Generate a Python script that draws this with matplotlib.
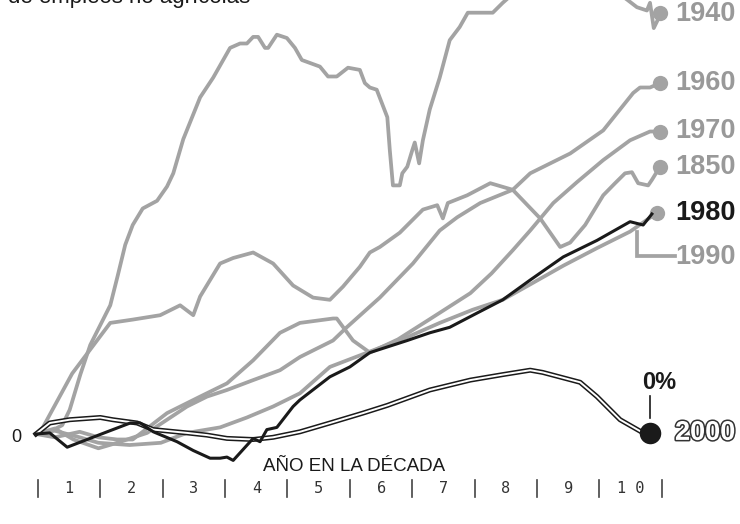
import matplotlib
matplotlib.use("Agg")
import matplotlib.pyplot as plt
import matplotlib.patheffects as pe

# ---------------- data (year in decade, % change in non-farm jobs) ----------------
y1940_x = [0, 0.22, 0.42, 0.54, 0.71, 0.87, 1.03, 1.19, 1.31, 1.43, 1.55, 1.71, 1.94, 2.10, 2.20,
           2.36, 2.63, 2.84, 3.11, 3.27, 3.38, 3.48, 3.56, 3.67, 3.72, 3.86, 4.02, 4.15, 4.26, 4.55,
           4.68, 4.82, 5.00, 5.19, 5.27, 5.35, 5.46, 5.63, 5.67, 5.72, 5.83, 5.87, 5.95, 6.03, 6.07,
           6.14, 6.20, 6.31, 6.47, 6.63, 6.79, 6.92, 7.07, 7.32, 7.48, 7.60, 7.90, 8.40, 8.90, 9.30,
           9.47, 9.63, 9.79, 9.84, 9.90, 9.96, 10.0]
y1940_v = [0, 0.2, 0.8, 2.2, 5.4, 8.1, 9.9, 11.7, 14.4, 17.2, 19.0, 20.5, 21.2, 22.5, 23.7,
           26.8, 30.6, 32.4, 35.1, 35.5, 35.5, 36.1, 36.1, 35.1, 35.1, 36.3, 36.0, 35.1, 34.0, 33.4,
           32.5, 32.5, 33.3, 33.1, 31.9, 31.5, 31.3, 28.8, 25.8, 22.6, 22.6, 23.7, 24.3, 25.8, 26.5,
           24.6, 26.7, 29.5, 32.4, 35.8, 37.0, 38.3, 38.3, 38.3, 39.2, 39.8, 40.8, 41.3, 40.8, 40.2,
           39.5, 38.8, 38.5, 39.2, 36.9, 37.6, 38.3]

y1950_x = [0, 0.11, 0.58, 1.19, 1.55, 1.99, 2.31, 2.52, 2.63, 2.95, 3.16, 3.48, 3.80, 4.12, 4.44,
           4.71, 4.92, 5.19, 5.35, 5.51, 5.83, 6.20, 6.43, 6.52, 6.60, 6.91, 7.28, 7.64, 8.08, 8.40,
           8.56, 8.80, 9.09, 9.28, 9.44, 9.55, 9.65, 9.81, 9.87, 10.0]
y1950_v = [0, 0.6, 5.5, 10.1, 10.4, 10.8, 11.7, 10.8, 12.5, 15.5, 16.0, 16.5, 15.5, 13.5, 12.4,
           12.2, 13.4, 15.2, 16.5, 17.0, 18.3, 20.4, 20.8, 19.6, 21.0, 21.7, 22.8, 22.2, 19.6, 17.0,
           17.4, 19.0, 21.7, 22.8, 23.7, 23.8, 22.8, 22.6, 23.1, 24.3]

y1960_x = [0, 0.3, 0.6, 1.0, 1.3, 1.78, 2.10, 2.42, 2.74, 3.06, 3.48, 3.91, 4.23, 4.76, 4.98,
           5.51, 6.04, 6.47, 6.75, 7.12, 7.64, 7.92, 8.24, 8.56, 9.09, 9.57, 9.68, 9.84, 10.0]
y1960_v = [0, 0.5, -0.5, -1.3, -0.8, 0.1, 1.3, 2.5, 3.4, 4.0, 4.9, 5.8, 7.0, 8.5, 9.7,
           12.4, 15.5, 18.5, 19.7, 21.0, 22.2, 23.7, 24.6, 25.5, 27.6, 31.0, 31.5, 31.5, 31.9]

y1970_x = [0, 0.3, 0.7, 1.0, 1.3, 1.55, 2.10, 2.63, 3.06, 3.48, 3.91, 4.23, 4.76, 4.82, 5.08,
           5.35, 5.80, 6.30, 6.96, 7.30, 7.64, 7.92, 8.29, 8.67, 9.09, 9.52, 9.84, 10.0]
y1970_v = [0, -0.3, 0.2, -0.3, -0.5, -0.5, 1.9, 3.4, 4.6, 6.7, 9.2, 10.1, 10.5, 10.5, 8.5,
           7.4, 8.6, 10.4, 12.8, 14.6, 16.7, 18.5, 21.0, 22.9, 24.9, 26.7, 27.5, 27.5]

y1980_x = [0, 0.22, 0.50, 0.82, 1.14, 1.51, 1.67, 1.88, 2.26, 2.52, 2.79, 2.95, 3.06, 3.16, 3.48,
           3.59, 3.70, 3.86, 4.12, 4.23, 4.71, 5.03, 5.35, 5.95, 6.31, 6.63, 7.07, 7.48, 7.92, 8.45,
           8.99, 9.52, 9.73, 9.87]
y1980_v = [0, 0.1, -1.2, -0.5, 0.2, 1.0, 1.0, 0.2, -0.7, -1.5, -2.2, -2.2, -2.1, -2.4, -0.4,
           -0.7, 0.4, 0.6, 2.5, 3.1, 5.2, 6.1, 7.4, 8.5, 9.2, 9.7, 11.0, 12.2, 14.0, 16.1,
           17.6, 19.3, 19.0, 20.0]

y1990_x = [0, 0.3, 0.7, 1.0, 1.5, 2.0, 2.42, 2.95, 3.38, 3.80, 4.23, 4.71, 5.40, 5.95, 6.47,
           7.00, 7.48, 7.92, 8.45, 8.99, 9.52, 9.95]
y1990_v = [0, 0.3, -0.3, -0.8, -1.0, -0.8, 0.1, 0.6, 1.5, 2.5, 3.7, 6.1, 7.6, 8.8, 10.1,
           11.3, 12.2, 13.6, 15.3, 16.9, 18.4, 20.1]

y2000_x = [0, 0.22, 0.54, 1.03, 1.23, 1.62, 1.88, 2.42, 2.74, 3.06, 3.48, 3.80, 4.23, 4.71, 5.24,
           5.63, 6.31, 6.96, 7.48, 7.92, 8.12, 8.72, 8.99, 9.36, 9.73, 9.84]
y2000_v = [0, 1.0, 1.3, 1.5, 1.3, 1.0, 0.4, 0.1, -0.1, -0.4, -0.5, -0.3, 0.2, 1.0, 1.9,
           2.6, 4.0, 4.9, 5.4, 5.8, 5.6, 4.7, 3.4, 1.3, 0.1, 0.1]

end_labels = ["1940", "1960", "1970", "1850", "1980", "1990"]
end_label_vals = [38.2, 31.9, 27.5, 24.3, 20.1, 16.1]
tick_labels = ["1", "2", "3", "4", "5", "6", "7", "8", "9", "1 0"]
title_text = "de empleos no agrícolas"
axis_text = "AÑO EN LA DÉCADA"

# ---------------- drawing ----------------
GRAY = "#a3a3a3"
LABEL_GRAY = "#999999"
BLACK = "#1a1a1a"
FONT = "Liberation Sans"

fig = plt.figure(figsize=(7.40, 5.24), dpi=100)
ax = fig.add_axes([0, 0, 1, 1])
ax.set_xlim(-36 / 62.4, (740 - 36) / 62.4)
ax.set_ylim((434 - 524) / 11.0, 434 / 11.0)
ax.axis("off")

gray_series = [(y1940_x, y1940_v), (y1950_x, y1950_v), (y1960_x, y1960_v),
               (y1970_x, y1970_v), (y1990_x, y1990_v)]
for xs, vs in gray_series:
    ax.plot(xs, vs, color=GRAY, lw=2.7, solid_joinstyle="round", zorder=2)

# end dots (gray)
for xs, vs in [(y1940_x, y1940_v), (y1960_x, y1960_v), (y1970_x, y1970_v),
               (y1950_x, y1950_v), (y1990_x, y1990_v)]:
    ax.plot(xs[-1], vs[-1], "o", color=GRAY, ms=11, mec="none", zorder=3)

# 2000 double line
ax.plot(y2000_x, y2000_v, color=BLACK, lw=3.6, solid_joinstyle="round", zorder=4)
ax.plot(y2000_x, y2000_v, color="white", lw=1.4, solid_joinstyle="round", zorder=5)
ax.plot(y2000_x[-1], y2000_v[-1], "o", color=BLACK, ms=15.5, mec="none", zorder=6)

# 1980 black line
ax.plot(y1980_x, y1980_v, color=BLACK, lw=2.2, solid_joinstyle="round", zorder=7)

# end labels
lab_x = (675 - 36) / 62.4
for lab, v in zip(end_labels, end_label_vals):
    col = BLACK if lab == "1980" else LABEL_GRAY
    ax.text(lab_x, v, lab, color=col, fontsize=19.5, fontweight="bold",
            family=FONT, ha="left", va="center", zorder=8)

# leader for 1990
lx = (637 - 36) / 62.4
ax.plot([lx, lx, (675 - 36) / 62.4], [(434 - 232) / 11.0, (434 - 256) / 11.0, (434 - 256) / 11.0],
        color=GRAY, lw=2.7, solid_joinstyle="miter", zorder=2)

# 2000 outlined label
t = ax.text(lab_x, y2000_v[-1], "2000", color="white", fontsize=19.5, fontweight="bold",
            family=FONT, ha="left", va="center", zorder=8)
t.set_path_effects([pe.withStroke(linewidth=2.2, foreground="#333333")])

# 0% annotation
ax.plot([y2000_x[-1], y2000_x[-1]], [1.45, 3.5], color=BLACK, lw=1.2, zorder=6)
ax.text(y2000_x[-1] + 0.15, 4.7, "0%", color=BLACK, fontsize=17, fontweight="bold",
        family=FONT, ha="center", va="center")

# zero label
ax.text(-0.32, -0.3, "0", color=BLACK, fontsize=13, family=FONT, ha="center", va="center")

# axis title
ax.text(5.10, -2.95, axis_text, color=BLACK, fontsize=13.5, family=FONT,
        ha="center", va="center")

# tick separators and numbers
for k in range(11):
    ax.plot([k + 0.03, k + 0.03], [-4.2, -5.7], color="#444444", lw=1.2, zorder=2)
for k, lab in enumerate(tick_labels):
    ax.text(k + 0.53, -4.95, lab, color="#333333", fontsize=11, family="DejaVu Sans Mono",
            ha="center", va="center")

# title, cropped at the top edge as in the source image
fig.text(8 / 740, 1 - 3.5 / 524, title_text, color=BLACK, fontsize=16, family=FONT,
         ha="left", va="baseline")

fig.savefig("out.png", dpi=100, facecolor="white")
